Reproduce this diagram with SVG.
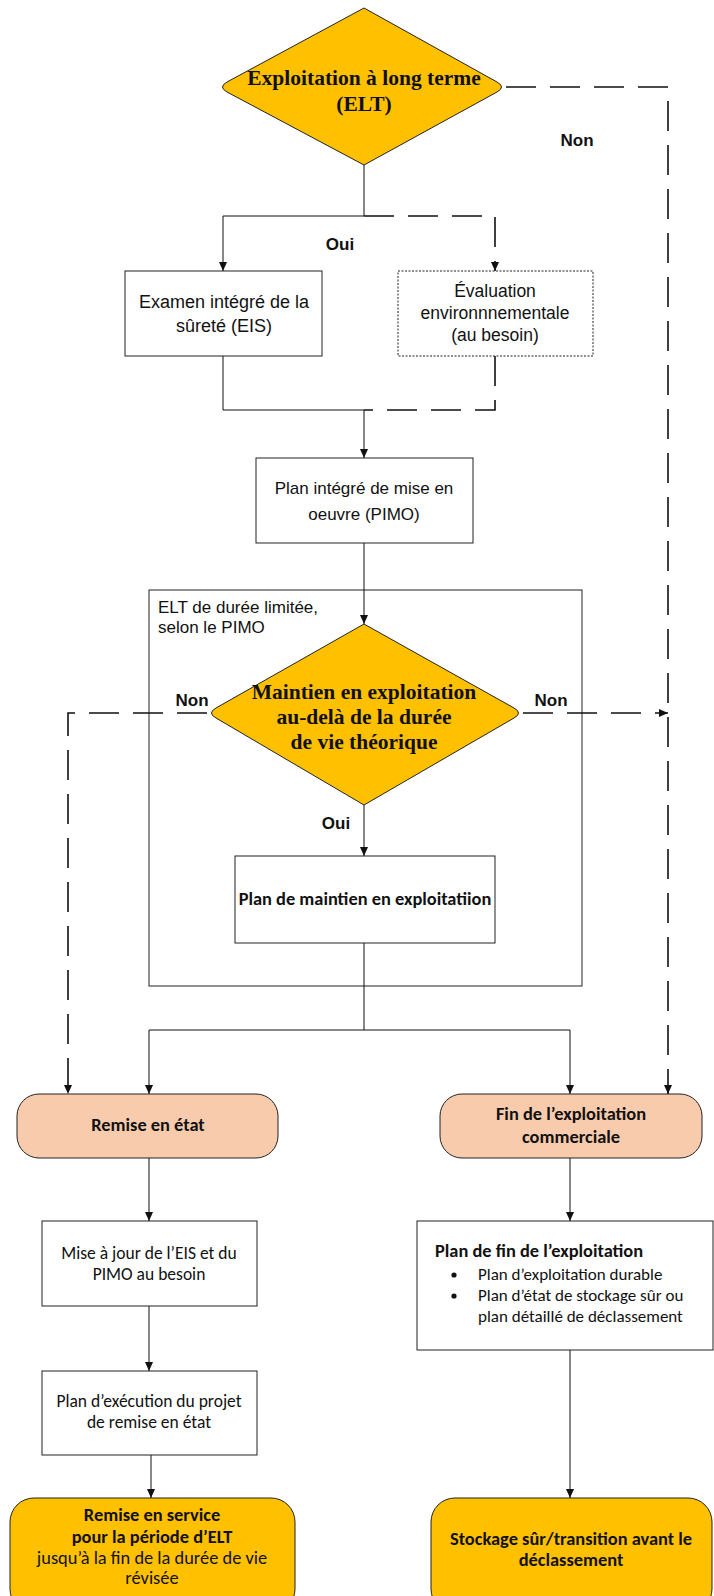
<svg xmlns="http://www.w3.org/2000/svg" width="714" height="1596" viewBox="0 0 714 1596">
<defs>
<style>
.bg{fill:#ffffff}
.box{fill:#ffffff;stroke:#222;stroke-width:1}
.dot{fill:#ffffff;stroke:#222;stroke-width:1;stroke-dasharray:2 1.5}
.dia{fill:#FFC000;stroke:#222;stroke-width:1}
.peach{fill:#F8CBAD;stroke:#222;stroke-width:1}
.gold{fill:#FFC000;stroke:#222;stroke-width:1}
.cont{fill:none;stroke:#222;stroke-width:1}
.sl{fill:none;stroke:#111;stroke-width:1}
.dl{fill:none;stroke:#111;stroke-width:1.6;stroke-dasharray:30 14}
.ser{font-family:"Liberation Serif","Times New Roman",serif;font-weight:bold;font-size:21.5px;fill:#111;text-anchor:middle}
.lab{font-family:"Liberation Sans",Arial,sans-serif;font-weight:bold;font-size:17px;fill:#111;text-anchor:middle}
.ar{font-family:"Liberation Sans",Arial,sans-serif;font-size:17px;fill:#111;text-anchor:middle}
.cal{font-family:Carlito,Lato,"Liberation Sans",sans-serif;font-size:17.5px;fill:#111;text-anchor:middle}
.calb{font-family:Carlito,Lato,"Liberation Sans",sans-serif;font-size:18.4px;font-weight:bold;fill:#111;text-anchor:middle}
</style>
<marker id="ah" markerWidth="10" markerHeight="8" refX="9" refY="4" orient="auto" markerUnits="userSpaceOnUse">
<path d="M0,0 L9,4 L0,8 Z" fill="#111"/>
</marker>
</defs>
<rect class="bg" x="0" y="0" width="714" height="1596"/>

<g id="container">
<rect class="cont" x="149" y="590" width="433" height="396"/>
<text class="ar" x="158" y="613" style="text-anchor:start">ELT de durée limitée,</text>
<text class="ar" x="158" y="633" style="text-anchor:start">selon le PIMO</text>
</g>

<g id="connectors">
<path class="sl" d="M364,165 L364,216 L223,216 L223,271" marker-end="url(#ah)"/>
<path class="dl" d="M364,216 L495,216 L495,271" marker-end="url(#ah)"/>
<path class="dl" d="M506,87 L668,87 L668,1094" marker-end="url(#ah)"/>
<path class="sl" d="M223,356 L223,410 L364,410"/>
<path class="dl" d="M495,356 L495,410 L364,410"/>
<path class="sl" d="M364,410 L364,458" marker-end="url(#ah)"/>
<path class="sl" d="M364,543 L364,624" marker-end="url(#ah)"/>
<path class="dl" d="M207,713 L68,713 L68,1094" marker-end="url(#ah)"/>
<path class="dl" d="M523,713 L668,713" marker-end="url(#ah)"/>
<path class="sl" d="M364,805 L364,856" marker-end="url(#ah)"/>
<path class="sl" d="M364,943 L364,1030"/>
<path class="sl" d="M364,1030 L149,1030 L149,1094" marker-end="url(#ah)"/>
<path class="sl" d="M364,1030 L570,1030 L570,1094" marker-end="url(#ah)"/>
<path class="sl" d="M149,1158 L149,1221" marker-end="url(#ah)"/>
<path class="sl" d="M149,1306 L149,1371" marker-end="url(#ah)"/>
<path class="sl" d="M151,1455 L151,1498" marker-end="url(#ah)"/>
<path class="sl" d="M570,1158 L570,1221" marker-end="url(#ah)"/>
<path class="sl" d="M570,1350 L570,1498" marker-end="url(#ah)"/>
<text class="lab" x="577" y="146">Non</text>
<text class="lab" x="340" y="250">Oui</text>
<text class="lab" x="192" y="706">Non</text>
<text class="lab" x="551" y="706">Non</text>
<text class="lab" x="336" y="829">Oui</text>
</g>

<g id="elt">
<path class="dia" d="M364,8 L497,82 Q506,87 497,92 L364,165 L227,92 Q218,87 227,82 Z"/>
<text class="ser" x="364" y="85">Exploitation à long terme</text>
<text class="ser" x="364" y="111">(ELT)</text>
</g>

<g id="eis">
<rect class="box" x="125" y="271" width="197" height="85"/>
<text class="ar" x="224" y="308" style="font-size:18px">Examen intégré de la</text>
<text class="ar" x="224" y="332" style="font-size:18px">sûreté (EIS)</text>
</g>

<g id="eval">
<rect class="dot" x="398" y="271" width="195" height="85"/>
<text class="ar" x="495" y="297" style="font-size:17.5px">Évaluation</text>
<text class="ar" x="495" y="319" style="font-size:17.5px">environnnementale</text>
<text class="ar" x="495" y="341" style="font-size:17.5px">(au besoin)</text>
</g>

<g id="pimo">
<rect class="box" x="256" y="458" width="217" height="85"/>
<text class="ar" x="364" y="494">Plan intégré de mise en</text>
<text class="ar" x="364" y="520">oeuvre (PIMO)</text>
</g>

<g id="maintien">
<path class="dia" d="M364,624 L514,708 Q523,713 514,718 L364,805 L216,718 Q207,713 216,708 Z"/>
<text class="ser" x="364" y="699">Maintien en exploitation</text>
<text class="ser" x="364" y="724">au-delà de la durée</text>
<text class="ser" x="364" y="749">de vie théorique</text>
</g>

<g id="plan-maintien">
<rect class="box" x="235" y="856" width="260" height="87"/>
<text class="calb" x="365" y="905">Plan de maintien en exploitatiion</text>
</g>

<g id="remise">
<rect class="peach" x="17" y="1094" width="261" height="64" rx="22" ry="22"/>
<text class="calb" x="148" y="1131">Remise en état</text>
</g>

<g id="fin">
<rect class="peach" x="440" y="1094" width="262" height="64" rx="22" ry="22"/>
<text class="calb" x="571" y="1120">Fin de l’exploitation</text>
<text class="calb" x="571" y="1143">commerciale</text>
</g>

<g id="maj">
<rect class="box" x="42" y="1221" width="215" height="85"/>
<text class="cal" x="149" y="1259">Mise à jour de l’EIS et du</text>
<text class="cal" x="149" y="1280">PIMO au besoin</text>
</g>

<g id="execution">
<rect class="box" x="42" y="1371" width="215" height="84"/>
<text class="cal" x="149" y="1407">Plan d’exécution du projet</text>
<text class="cal" x="149" y="1428">de remise en état</text>
</g>

<g id="plan-fin">
<rect class="box" x="417" y="1221" width="296" height="129"/>
<text class="calb" x="435" y="1257" style="text-anchor:start">Plan de fin de l’exploitation</text>
<circle cx="454" cy="1275" r="2.6" fill="#111"/>
<text class="cal" x="478" y="1280" style="text-anchor:start;font-size:17px">Plan d’exploitation durable</text>
<circle cx="454" cy="1296" r="2.6" fill="#111"/>
<text class="cal" x="478" y="1301" style="text-anchor:start;font-size:17px">Plan d’état de stockage sûr ou</text>
<text class="cal" x="478" y="1322" style="text-anchor:start;font-size:17px">plan détaillé de déclassement</text>
</g>

<g id="remise-service">
<rect class="gold" x="10" y="1498" width="285" height="115" rx="24" ry="24"/>
<text class="calb" x="152" y="1521">Remise en service</text>
<text class="calb" x="152" y="1543">pour la période d’ELT</text>
<text class="cal" x="152" y="1564" style="font-size:18.4px">jusqu’à la fin de la durée de vie</text>
<text class="cal" x="152" y="1584" style="font-size:18.4px">révisée</text>
</g>

<g id="stockage">
<rect class="gold" x="431" y="1498" width="281" height="115" rx="24" ry="24"/>
<text class="calb" x="571" y="1545">Stockage sûr/transition avant le</text>
<text class="calb" x="571" y="1566">déclassement</text>
</g>
</svg>
